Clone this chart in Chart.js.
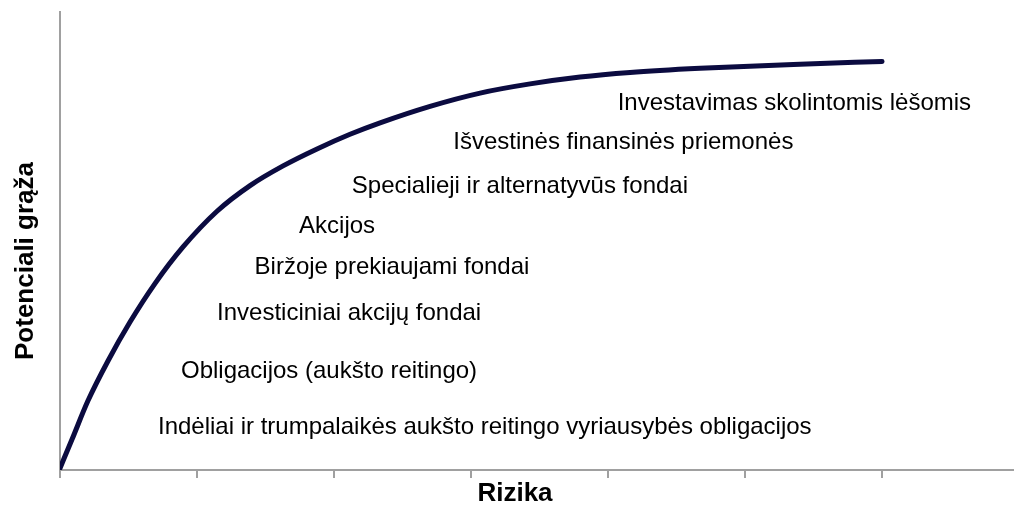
<!DOCTYPE html>
<html>
<head>
<meta charset="utf-8">
<script src="https://cdn.jsdelivr.net/npm/chart.js@4"></script>
<style>
  html, body { margin: 0; padding: 0; background: #ffffff; }
  #wrap { width: 1014px; height: 505px; }
</style>
</head>
<body>
<div id="wrap"><canvas id="myChart" width="1014" height="505"></canvas></div>
<script>
// risk (x) vs potential return (y)
const riskX = [0, 0.088, 0.204, 0.350, 0.511, 0.693, 0.898, 1.146, 1.387, 1.628, 1.876, 2.117, 2.336, 2.701, 3.066, 3.431, 3.796, 4.161, 4.672, 5.401, 6.0];
const returnY = [0.4, 6.7, 15.1, 23.8, 32.3, 40.7, 48.7, 56.5, 62.1, 66.4, 70.1, 73.3, 75.8, 79.4, 82.3, 84.3, 85.8, 86.8, 87.7, 88.6, 89.2];

// investment types written under the curve
const labelText = [
    'Investavimas skolintomis lėšomis',
    'Išvestinės finansinės priemonės',
    'Specialieji ir alternatyvūs fondai',
    'Akcijos',
    'Biržoje prekiaujami fondai',
    'Investiciniai akcijų fondai',
    'Obligacijos (aukšto reitingo)',
    'Indėliai ir trumpalaikės aukšto reitingo vyriausybės obligacijos'
];
const labelX = [4.07, 2.87, 2.13, 1.745, 1.42, 1.146, 0.883, 0.715];
const labelY = [80.1, 71.6, 62.0, 53.1, 44.3, 34.3, 21.6, 9.4];

const xTitle = 'Rizika';
const yTitle = 'Potenciali grąža';

const points = riskX.map((x, i) => ({x: x, y: returnY[i]}));

// text labels and axis titles
const textPlugin = {
    id: 'textPlugin',
    afterDatasetsDraw(chart)
    {
        const ctx = chart.ctx;
        const xs = chart.scales.x;
        const ys = chart.scales.y;
        ctx.save();
        ctx.fillStyle = '#000000';
        ctx.font = '24px "Liberation Sans", Arial, sans-serif';
        ctx.textAlign = 'left';
        ctx.textBaseline = 'middle';
        for (let i = 0; i < labelText.length; i++)
        {
            ctx.fillText(labelText[i], xs.getPixelForValue(labelX[i]), ys.getPixelForValue(labelY[i]));
        }

        ctx.font = 'bold 26px "Liberation Sans", Arial, sans-serif';
        ctx.textAlign = 'center';
        ctx.fillText(xTitle, 515, 494);

        ctx.translate(26, 261);
        ctx.rotate(-Math.PI / 2);
        ctx.fillText(yTitle, 0, 0);
        ctx.restore();
    }
};

let myChart = document.getElementById('myChart').getContext('2d');

let chart_1 = new Chart(myChart,
{
    type: 'line',
    data:
    {
        datasets:
        [{
            data: points,
            borderColor: '#0b0b40',
            borderWidth: 5,
            borderCapStyle: 'round',
            pointRadius: 0,
            fill: false,
            cubicInterpolationMode: 'monotone'
        }]
    },
    options:
    {
        responsive: false,
        animation: false,
        layout: { padding: { left: 52, top: 12, right: 0, bottom: 27 } },
        plugins:
        {
            legend: { display: false },
            tooltip: { enabled: false }
        },
        scales:
        {
            x:
            {
                type: 'linear',
                min: 0,
                max: 6.963,
                ticks: { display: false, stepSize: 1 },
                afterBuildTicks: (scale) => { scale.ticks = scale.ticks.filter(t => Number.isInteger(t.value)); },
                grid: { drawOnChartArea: false, drawTicks: true, tickLength: 8, color: '#a0a0a0', lineWidth: 2 },
                border: { color: '#a0a0a0', width: 2 }
            },
            y:
            {
                min: 0,
                max: 100,
                ticks: { display: false },
                grid: { display: false },
                border: { color: '#a0a0a0', width: 2 }
            }
        }
    },
    plugins: [textPlugin]
});
</script>
</body>
</html>
